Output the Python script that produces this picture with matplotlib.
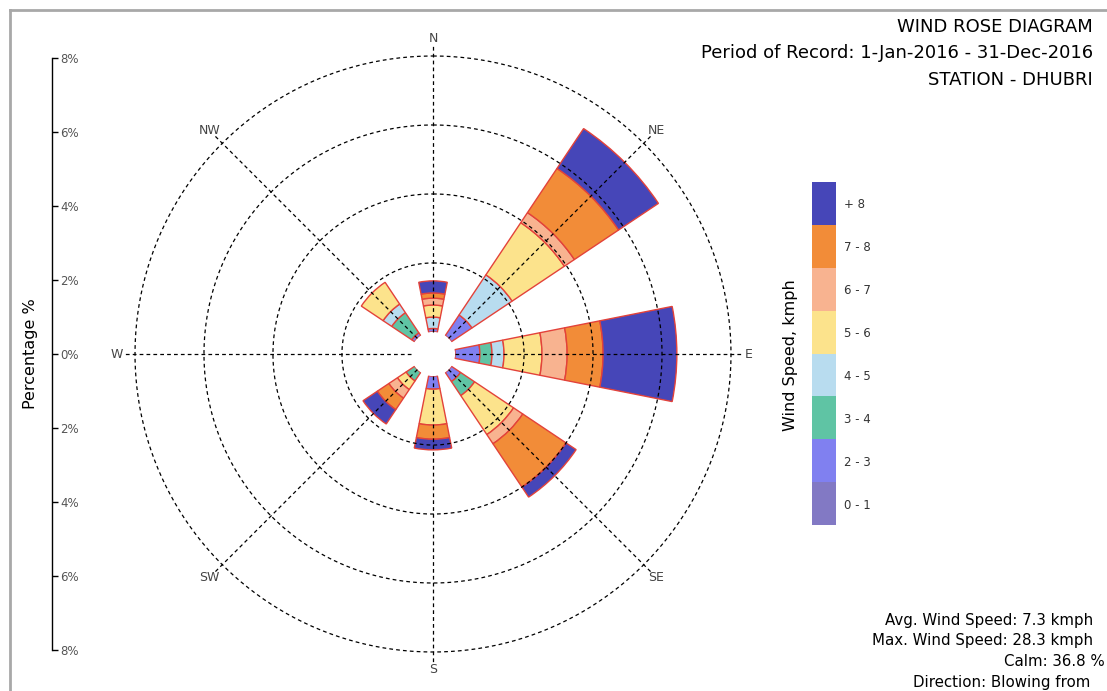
import numpy as np
import matplotlib
matplotlib.use('Agg')
import matplotlib.pyplot as plt
from matplotlib.lines import Line2D

# wind directions and their angles (degrees, clockwise from north)
directions = ['N', 'NE', 'E', 'SE', 'S', 'SW', 'W', 'NW']
dir_angles = [0, 45, 90, 135, 180, 225, 270, 315]

# speed classes, bottom of the stack first
speed_labels = ['0 - 1', '2 - 3', '3 - 4', '4 - 5', '5 - 6', '6 - 7', '7 - 8', '+ 8']
speed_colors = ['#8279c4', '#8080f0', '#5fc4a4', '#b8dcef', '#fce38c', '#f8b390', '#f28c38', '#4646b8']

# percentage of time per direction (N, NE, E, SE, S, SW, W, NW)
spd_0_1 = [0.00, 0.00, 0.00, 0.00, 0.00, 0.00, 0.00, 0.00]
spd_2_3 = [0.10, 0.72, 0.72, 0.32, 0.38, 0.00, 0.00, 0.10]
spd_3_4 = [0.00, 0.00, 0.35, 0.49, 0.00, 0.30, 0.00, 0.70]
spd_4_5 = [0.33, 1.40, 0.35, 0.00, 0.00, 0.00, 0.00, 0.30]
spd_5_6 = [0.35, 1.82, 1.10, 1.36, 1.04, 0.30, 0.00, 0.76]
spd_6_7 = [0.20, 0.35, 0.73, 0.32, 0.00, 0.30, 0.00, 0.00]
spd_7_8 = [0.15, 1.54, 1.04, 1.51, 0.41, 0.40, 0.00, 0.00]
spd_8p = [0.35, 1.39, 2.14, 0.35, 0.31, 0.50, 0.00, 0.00]
speed_bins = [spd_0_1, spd_2_3, spd_3_4, spd_4_5, spd_5_6, spd_6_7, spd_7_8, spd_8p]

pct_ticks = [-8, -6, -4, -2, 0, 2, 4, 6, 8]
ring_pcts = [2, 4, 6, 8]
calm_offset = 0.64   # empty calm circle in the middle, in % units

W, H = 1107, 691
fig = plt.figure(figsize=(W / 100, H / 100), dpi=100)


def fx(px):
    return px / W


def fy(py):
    return 1 - py / H


dash = (0, (3, 2.5))

# ---- the rose itself
cx, cy, R = 433, 354, 298
ax = fig.add_axes([fx(cx - R), fy(cy + R), 2 * R / W, 2 * R / H], projection='polar')
ax.set_theta_zero_location('N')
ax.set_theta_direction(-1)

theta = np.deg2rad(dir_angles)
bottom = np.zeros(len(directions))
for vals, col in zip(speed_bins, speed_colors):
    vals = np.array(vals)
    m = vals > 0
    if m.any():
        ax.bar(theta[m], vals[m], width=np.pi / 8, bottom=bottom[m], color=col,
               edgecolor='#e3423a', linewidth=1.0, zorder=1)
    bottom += vals

ax.set_ylim(0, 8)
ax.set_rorigin(-calm_offset)
ax.set_yticks([])
ax.set_xticks([])
ax.grid(False)
ax.set_frame_on(False)
ax.patch.set_visible(False)
for s in ax.spines.values():
    s.set_visible(False)

# dashed rings and direction spokes
ring_t = np.linspace(0, 2 * np.pi, 400)
for rp in ring_pcts:
    ax.plot(ring_t, np.full_like(ring_t, rp), color='black', linestyle=dash,
            linewidth=0.9, clip_on=False, zorder=3)

for th, name in zip(theta, directions):
    ax.plot([th, th], [0, 8.3], color='black', linestyle=dash,
            linewidth=0.9, clip_on=False, zorder=3)
    ax.text(th, 8.52, name, ha='center', va='center', fontsize=9,
            color='#444444', clip_on=False)

# ---- percentage scale on the left
lax = fig.add_axes([fx(40), fy(650), fx(52) - fx(40), (650 - 58) / H])
lax.set_ylim(-8, 8)
lax.set_yticks(pct_ticks)
lax.set_yticklabels([f'{abs(v)}%' for v in pct_ticks])
lax.yaxis.tick_right()
lax.tick_params(axis='y', direction='out', length=4, width=1, labelsize=8.5,
                labelcolor='#555555', pad=2)
lax.set_xticks([])
for s in ['left', 'top', 'bottom']:
    lax.spines[s].set_visible(False)
lax.spines['right'].set_linewidth(1)
fig.text(fx(30), fy(354), 'Percentage %', rotation=90, ha='center', va='center', fontsize=11.5)

# ---- colour legend
cax = fig.add_axes([fx(812), fy(525), 24 / W, (525 - 182) / H])
for i, col in enumerate(speed_colors):
    cax.bar(0.5, 1, width=1, bottom=i, color=col)
cax.set_xlim(0, 1)
cax.set_ylim(0, len(speed_colors))
cax.set_yticks(np.arange(len(speed_labels)) + 0.5)
cax.set_yticklabels(speed_labels)
cax.yaxis.tick_right()
cax.tick_params(axis='y', length=0, labelsize=8.5, labelcolor='#333333', pad=6)
cax.set_xticks([])
for s in cax.spines.values():
    s.set_visible(False)
fig.text(fx(790), fy(355), 'Wind Speed, kmph', rotation=90, ha='center', va='center', fontsize=11.5)

# ---- titles and stats
fig.text(fx(1093), fy(27), 'WIND ROSE DIAGRAM', ha='right', va='center', fontsize=13)
fig.text(fx(1093), fy(53), 'Period of Record: 1-Jan-2016 - 31-Dec-2016', ha='right', va='center', fontsize=13)
fig.text(fx(1093), fy(80), 'STATION - DHUBRI', ha='right', va='center', fontsize=13)

fig.text(fx(1093), fy(620), 'Avg. Wind Speed: 7.3 kmph', ha='right', va='center', fontsize=10.8)
fig.text(fx(1093), fy(640), 'Max. Wind Speed: 28.3 kmph', ha='right', va='center', fontsize=10.8)
fig.text(fx(1105), fy(661), 'Calm: 36.8 %', ha='right', va='center', fontsize=10.8)
fig.text(fx(1090), fy(682), 'Direction: Blowing from', ha='right', va='center', fontsize=10.8)

# window frame
fig.add_artist(Line2D([fx(10), 1], [fy(10), fy(10)], color='#a8a8a8', linewidth=2))
fig.add_artist(Line2D([fx(10), fx(10)], [fy(10), 0], color='#a8a8a8', linewidth=2))

fig.savefig('out.png', dpi=100)
